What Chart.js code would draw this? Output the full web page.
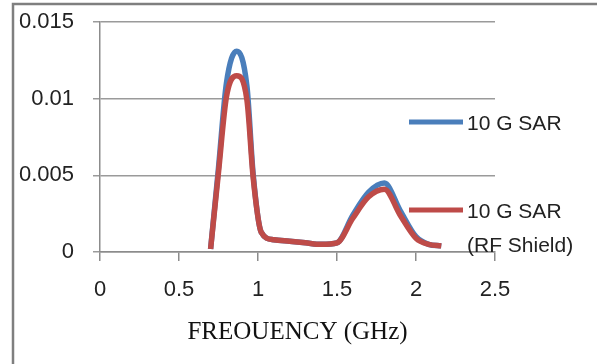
<!DOCTYPE html>
<html>
<head>
<meta charset="utf-8">
<script src="https://cdn.jsdelivr.net/npm/chart.js@4/dist/chart.umd.min.js"></script>
<style>
  html, body { margin: 0; padding: 0; background: #fff; }
  .chart-wrapper { position: relative; width: 597px; height: 364px; }
</style>
</head>
<body>
<div class="chart-wrapper">
  <canvas id="sarChart" width="597" height="364"></canvas>
</div>
<script>
// values
let freqGHz = [0.70, 0.75, 0.80, 0.865, 0.93, 0.97, 1.02, 1.1, 1.2, 1.3, 1.4, 1.5, 1.6, 1.7, 1.8, 1.9, 2.0, 2.08, 2.16];
let sar10g = [0.0002, 0.0055, 0.0110, 0.0131, 0.0108, 0.0050, 0.0013, 0.0008, 0.0007, 0.0006, 0.0005, 0.0006, 0.0024, 0.0039, 0.0045, 0.0027, 0.0010, 0.0005, 0.0004];
let sar10gShield = [0.0002, 0.0052, 0.0101, 0.0115, 0.0099, 0.0048, 0.0013, 0.0008, 0.0007, 0.0006, 0.0005, 0.0006, 0.0022, 0.0036, 0.0041, 0.0024, 0.0009, 0.0005, 0.0004];
let seriesLabels = [['10 G SAR'], ['10 G SAR', '(RF Shield)']];
let xTitle = 'FREOUENCY (GHz)';

let blue = '#4a7ebb';
let red = '#be4b48';
let tickFont = '"Liberation Sans", Arial, sans-serif';

function toPoints(values) {
  return values.map((v, i) => ({ x: freqGHz[i], y: v }));
}

// frame lines round the chart, like the cropped Excel box
let framePlugin = {
  id: 'frame',
  beforeDraw(chart) {
    let c = chart.ctx;
    c.save();
    c.strokeStyle = '#7f7f7f';
    c.lineWidth = 2.5;
    c.beginPath();
    c.moveTo(13, 364);
    c.lineTo(13, 4);
    c.lineTo(597, 4);
    c.stroke();
    c.restore();
  }
};

// legend on the right, second entry on two lines
let legendPlugin = {
  id: 'sideLegend',
  afterDraw(chart) {
    let c = chart.ctx;
    let area = chart.chartArea;
    let rows = [122, 210];
    c.save();
    c.font = '21px ' + tickFont;
    c.textBaseline = 'middle';
    c.textAlign = 'left';
    chart.data.datasets.forEach((ds, i) => {
      let y = rows[i];
      c.strokeStyle = ds.borderColor;
      c.lineWidth = 5;
      c.lineCap = 'butt';
      c.beginPath();
      c.moveTo(area.right - 86, y);
      c.lineTo(area.right - 32, y);
      c.stroke();
      c.fillStyle = '#222';
      seriesLabels[i].forEach((line, j) => {
        c.fillText(line, area.right - 28, y + 2 + j * 34);
      });
    });
    c.restore();
  }
};

let ctx = document.getElementById('sarChart').getContext('2d');
let sarChart = new Chart(ctx, {
  type: 'scatter',
  data: {
    datasets: [{
      label: seriesLabels[0].join(' '),
      data: toPoints(sar10g),
      borderColor: blue,
      backgroundColor: blue,
      order: 1
    }, {
      label: seriesLabels[1].join(' '),
      data: toPoints(sar10gShield),
      borderColor: red,
      backgroundColor: red,
      order: 0
    }]
  },
  options: {
    responsive: false,
    animation: false,
    showLine: true,
    elements: {
      point: { radius: 0 },
      line: { borderWidth: 5.5, cubicInterpolationMode: 'monotone', fill: false }
    },
    layout: { padding: { top: 22, right: 102, left: 0, bottom: 17 } },
    plugins: {
      legend: { display: false },
      tooltip: { enabled: false }
    },
    scales: {
      x: {
        type: 'linear',
        min: 0,
        max: 2.5,
        ticks: {
          stepSize: 0.5,
          color: '#222',
          padding: 16,
          font: { family: tickFont, size: 22 },
          callback: v => Number(v.toFixed(1)).toString()
        },
        grid: { drawOnChartArea: false, drawTicks: true, tickLength: 9, color: '#8c8c8c', lineWidth: 1.5 },
        border: { color: '#8c8c8c', width: 1.5 },
        title: {
          display: true,
          text: xTitle,
          color: '#111',
          padding: { top: 0, bottom: 0 },
          font: { family: '"Liberation Serif", "Times New Roman", serif', size: 25 }
        },
        afterFit(scale) { scale.height = 95; }
      },
      y: {
        min: 0,
        max: 0.015,
        ticks: {
          stepSize: 0.005,
          color: '#222',
          padding: 19,
          font: { family: tickFont, size: 22 },
          callback: v => Number(v.toFixed(3)).toString()
        },
        grid: { color: '#9a9a9a', lineWidth: 1.5, tickLength: 7 },
        border: { color: '#8c8c8c', width: 1.5 },
        afterFit(scale) {
          scale.width = 100;
          scale.paddingTop = 0;
          scale.paddingBottom = 0;
        }
      }
    }
  },
  plugins: [framePlugin, legendPlugin]
});
</script>
</body>
</html>
